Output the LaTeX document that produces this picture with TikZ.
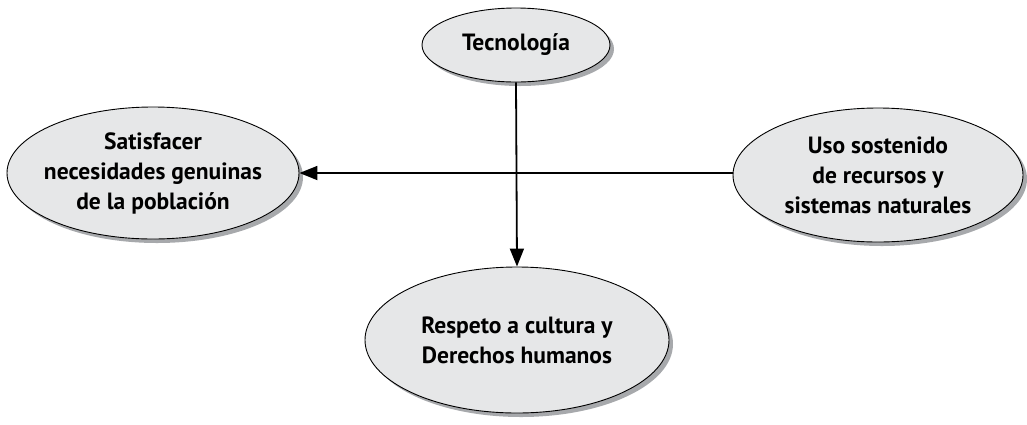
\documentclass[tikz,border=0pt]{standalone}
\usepackage{fontspec}
\setmainfont{PT Sans}
\usetikzlibrary{shapes.geometric,arrows.meta,shadows}
\definecolor{ellfill}{HTML}{E6E7E8}
\definecolor{shadowgray}{HTML}{A7A9AC}
\tikzset{
  bubble/.style={ellipse, draw=black, line width=0.9pt, fill=ellfill,
    inner sep=0pt,
    drop shadow={shadow xshift=4pt, shadow yshift=-4pt, fill=shadowgray, opacity=1}},
  btext/.style={align=center, inner sep=0pt, font=\fontsize{23.5}{30}\selectfont\bfseries},
  conn/.style={line width=1.8pt, -{Triangle[length=18pt,width=14pt]}}
}
\begin{document}
\begin{tikzpicture}[x=1pt,y=1pt]
\useasboundingbox (0,0) rectangle (1027,-424);
\node[bubble, minimum width=188pt, minimum height=74pt,
  label={[btext]center:Tecnología}] (tec) at (516,-45) {};
\node[bubble, minimum width=292pt, minimum height=132pt,
  label={[btext]center:Satisfacer\\necesidades genuinas\\de la población}] (sat) at (153,-173) {};
\node[bubble, minimum width=290pt, minimum height=134pt,
  label={[btext]center:Uso sostenido\\de recursos y\\sistemas naturales}] (uso) at (878,-175) {};
\node[bubble, minimum width=304pt, minimum height=146pt,
  label={[btext]center:Respeto a cultura y\\Derechos humanos}] (res) at (517,-340) {};
\draw[conn] (tec.south) -- (res.north);
\draw[conn] (uso.west |- 0,-173) -- (sat.east |- 0,-173);
\end{tikzpicture}
\end{document}
